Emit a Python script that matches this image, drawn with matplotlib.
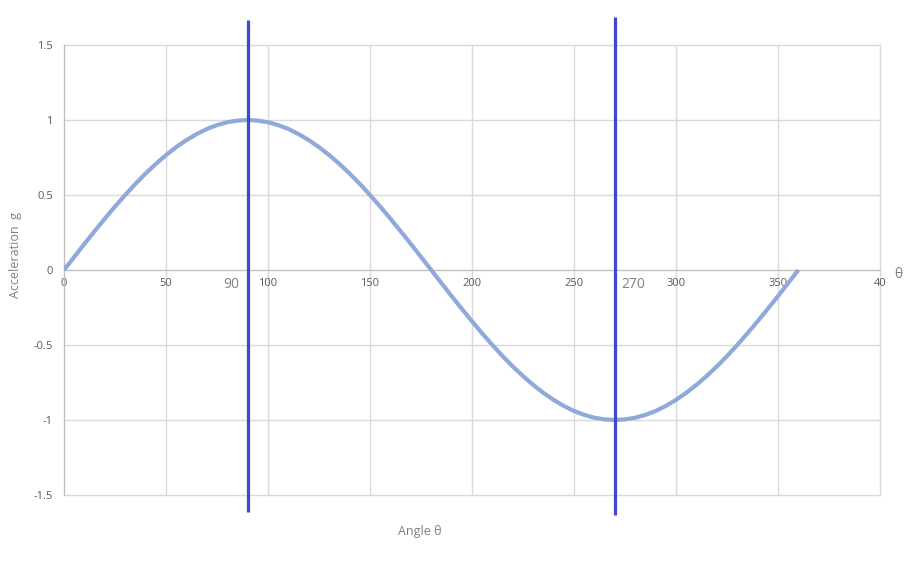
import matplotlib
matplotlib.use("Agg")
import matplotlib.pyplot as plt

plt.rcParams['font.family'] = ['Open Sans', 'DejaVu Sans']

# Curve, every 5 degrees
angles = [0, 5, 10, 15, 20, 25, 30, 35, 40, 45, 50, 55, 60, 65, 70, 75, 80, 85,
          90, 95, 100, 105, 110, 115, 120, 125, 130, 135, 140, 145, 150, 155, 160, 165, 170, 175,
          180, 185, 190, 195, 200, 205, 210, 215, 220, 225, 230, 235, 240, 245, 250, 255, 260, 265,
          270, 275, 280, 285, 290, 295, 300, 305, 310, 315, 320, 325, 330, 335, 340, 345, 350, 355, 360]
accel = [0, 0.087, 0.174, 0.259, 0.342, 0.423, 0.5, 0.574, 0.643, 0.707, 0.766, 0.819, 0.866,
         0.906, 0.94, 0.966, 0.985, 0.996,
         1.0, 0.996, 0.985, 0.966, 0.94, 0.906, 0.866, 0.819, 0.766, 0.707, 0.643, 0.574, 0.5,
         0.423, 0.342, 0.259, 0.174, 0.087,
         0, -0.087, -0.174, -0.259, -0.342, -0.423, -0.5, -0.574, -0.643, -0.707, -0.766, -0.819,
         -0.866, -0.906, -0.94, -0.966, -0.985, -0.996,
         -1.0, -0.996, -0.985, -0.966, -0.94, -0.906, -0.866, -0.819, -0.766, -0.707, -0.643,
         -0.574, -0.5, -0.423, -0.342, -0.259, -0.174, -0.087, 0]

x_ticks = [0, 50, 100, 150, 200, 250, 300, 350, 400]
x_tick_labels = ["0", "50", "100", "150", "200", "250", "300", "350", "40"]
y_ticks = [-1.5, -1, -0.5, 0, 0.5, 1, 1.5]
y_tick_labels = ["-1.5", "-1", "-0.5", "0", "0.5", "1", "1.5"]

# Vertical marker lines and their labels
marker_angles = [90, 270]
marker_top = [1.67, 1.69]
marker_bottom = [-1.61, -1.63]
marker_labels = ["90", "270"]
marker_label_x = [82, 279]

fig = plt.figure(figsize=(9.19, 5.65), dpi=100)
ax = fig.add_axes([64 / 919, 1 - 495 / 565, 816 / 919, 450 / 565])

ax.set_xlim(0, 400)
ax.set_ylim(-1.5, 1.5)

for s in ["top", "right"]:
    ax.spines[s].set_visible(False)
ax.spines["bottom"].set_position(("data", 0))
ax.spines["bottom"].set_color("#bfbfbf")
ax.spines["left"].set_color("#bfbfbf")
ax.spines["bottom"].set_zorder(1)

ax.set_xticks(x_ticks)
ax.set_xticklabels(x_tick_labels)
ax.set_yticks(y_ticks)
ax.set_yticklabels(y_tick_labels)
ax.tick_params(axis="both", length=0, labelsize=8, labelcolor="#595959")
ax.tick_params(axis="x", pad=6)
ax.tick_params(axis="y", pad=8)
ax.grid(True, color="#d9d9d9", linewidth=1)
ax.set_axisbelow(True)
for gl in ax.get_xgridlines() + ax.get_ygridlines():
    gl.set_clip_on(False)

ax.plot(angles, accel, color="#8fa9db", linewidth=3, solid_capstyle="butt",
        solid_joinstyle="round", zorder=3)

ax.vlines(marker_angles, marker_bottom, marker_top, color="#3f48cc", linewidth=2.3,
          clip_on=False, zorder=4)
for lx, lab in zip(marker_label_x, marker_labels):
    ax.text(lx, -0.1, lab, ha="center", va="center", fontsize=10, color="#808080")

ax.text(408.8, -0.03, "θ", ha="center", va="center", fontsize=10, color="#808080", clip_on=False)

fig.text(420 / 919, 1 - 531 / 565, "Angle θ", ha="center", va="center", fontsize=9, color="#808080")
fig.text(15 / 919, 1 - 255 / 565, "Acceleration  g", ha="center", va="center", rotation=90,
         fontsize=9, color="#808080")

fig.savefig("out.png", dpi=100)
